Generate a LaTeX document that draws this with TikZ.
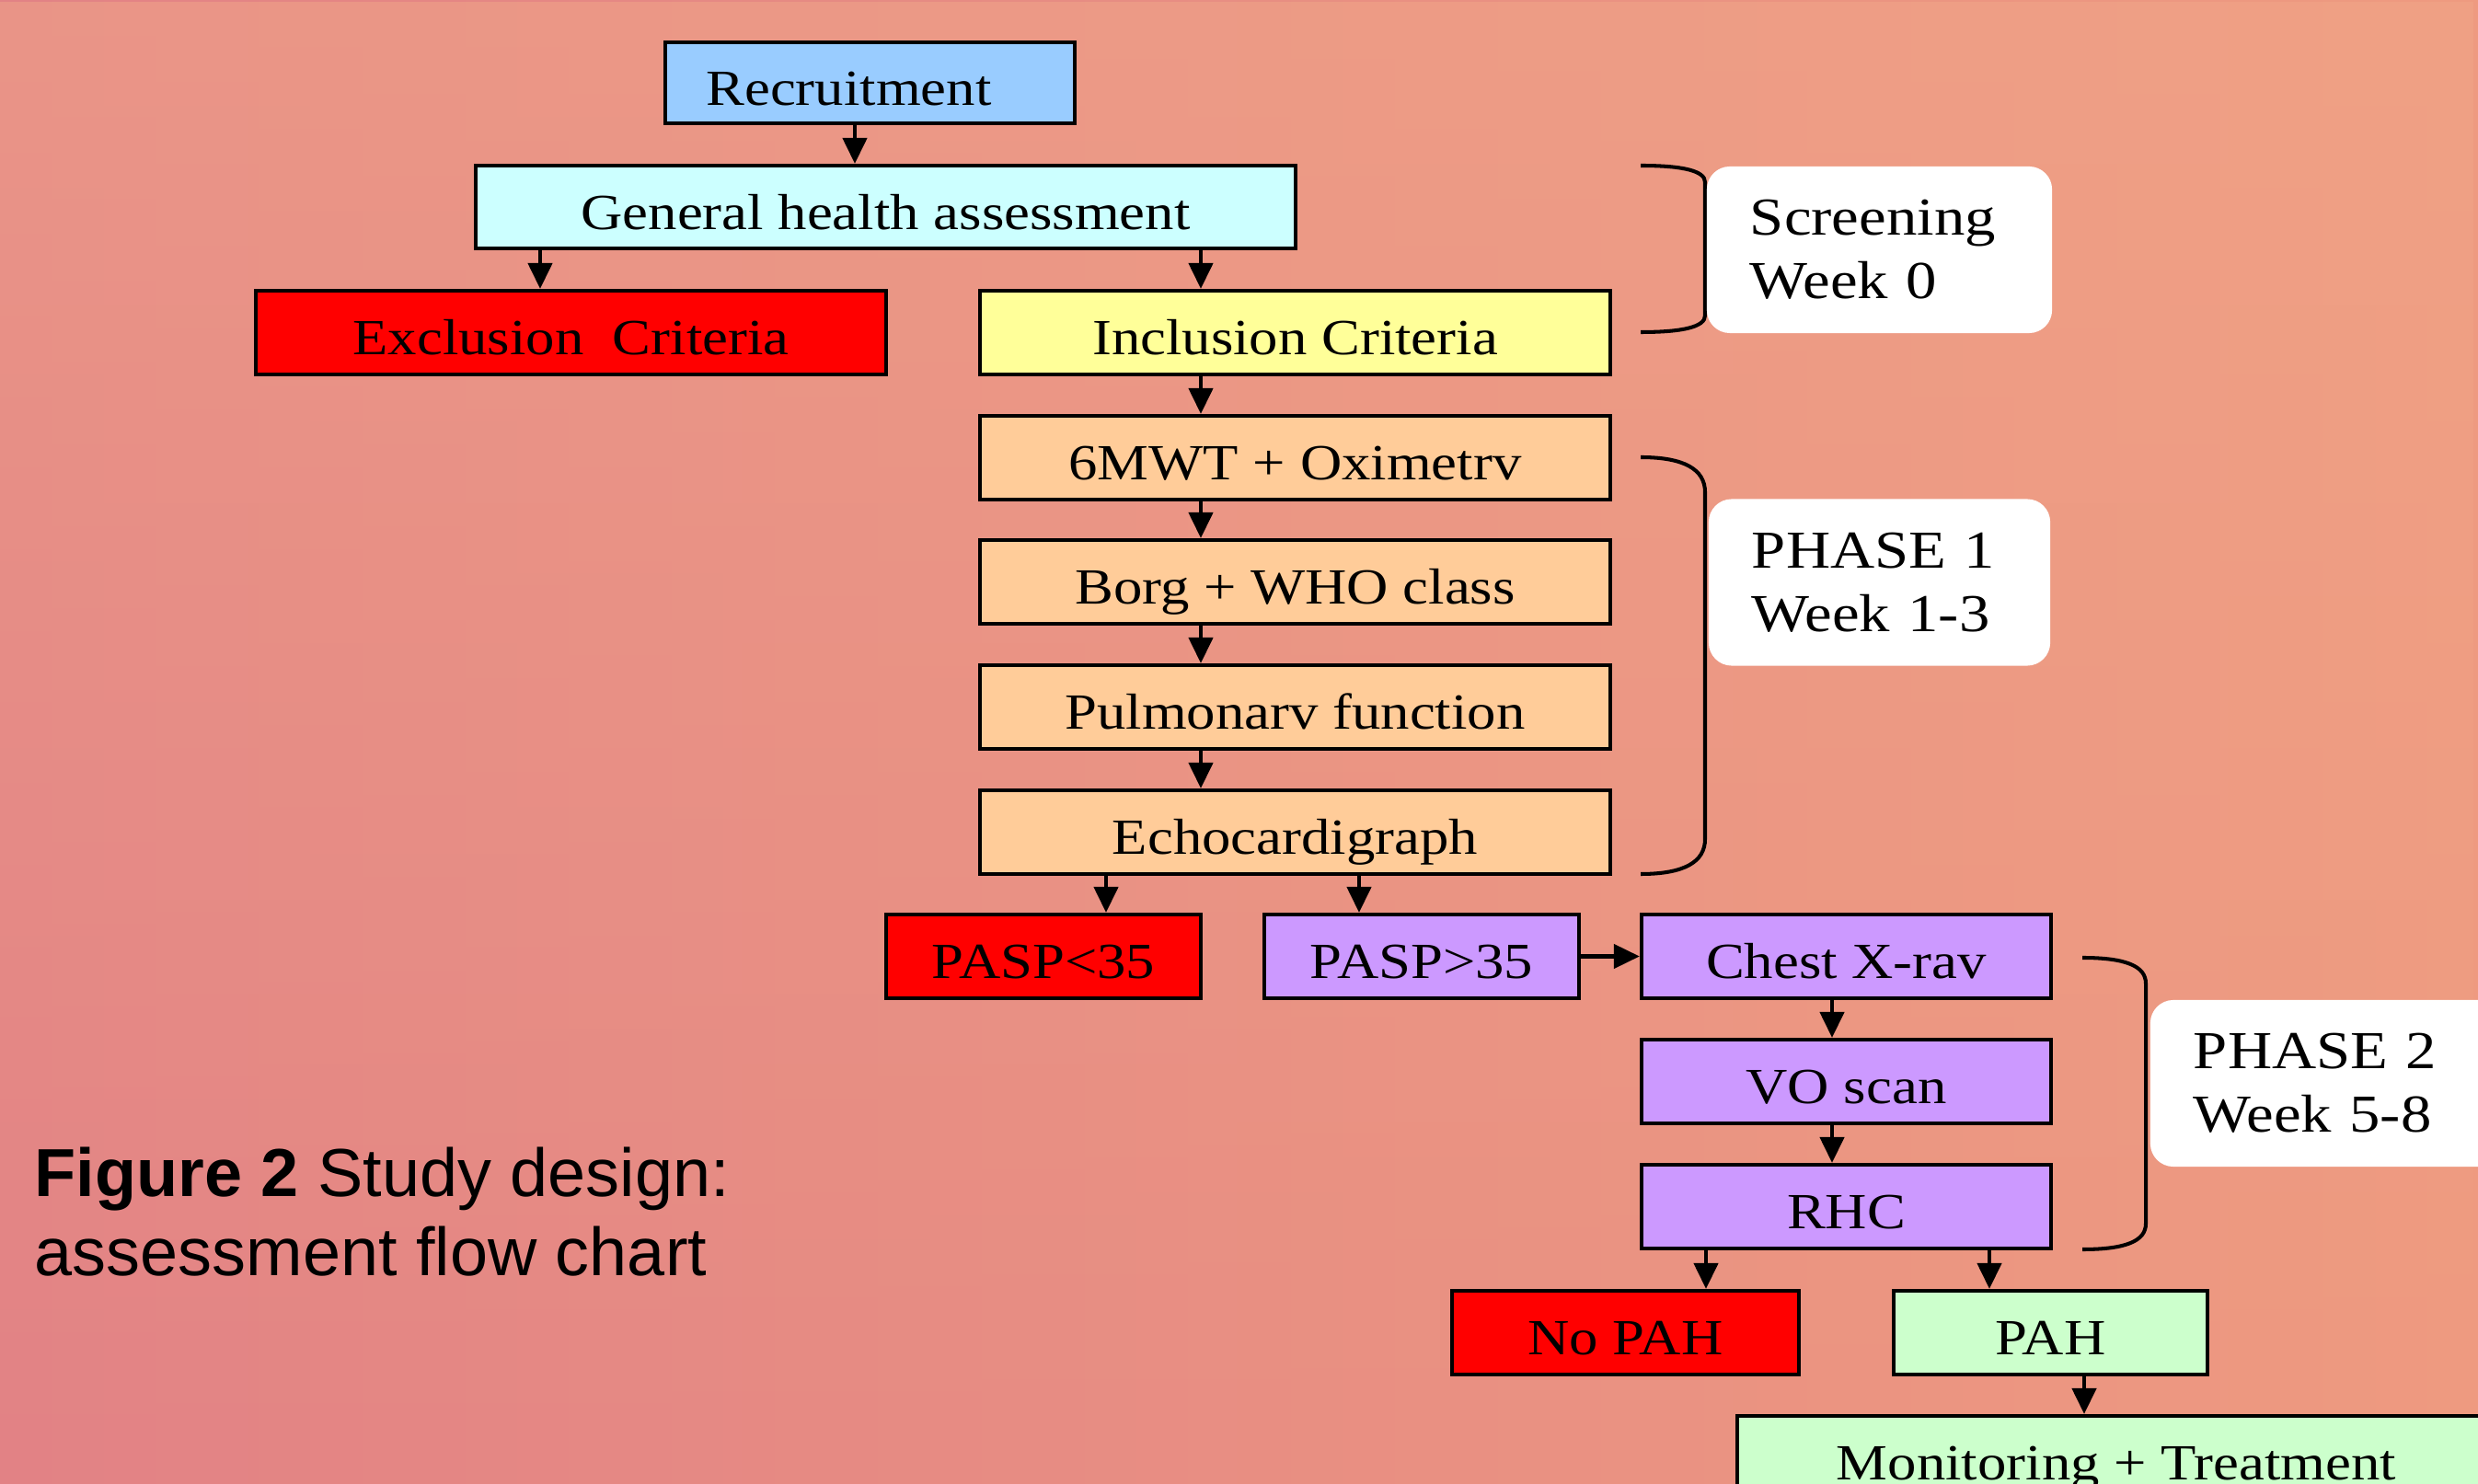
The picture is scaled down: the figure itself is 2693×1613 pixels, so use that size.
\documentclass[tikz,border=0pt]{standalone}
\usepackage{fontspec}
\setmainfont{Liberation Serif}
\newfontfamily\boxfont[FakeStretch=1.14]{Liberation Serif}
\newfontfamily\labfont[FakeStretch=1.15]{Liberation Serif}
\newfontfamily\capfont{Liberation Sans}
\usetikzlibrary{arrows.meta,fadings}
\definecolor{bgL}{RGB}{226,130,133}
\definecolor{bgR}{RGB}{238,154,128}
\definecolor{bgT}{RGB}{242,168,138}
\definecolor{cRec}{HTML}{99CCFF}
\definecolor{cGen}{HTML}{CCFFFF}
\definecolor{cRed}{HTML}{FF0000}
\definecolor{cInc}{HTML}{FFFF99}
\definecolor{cOra}{HTML}{FFCC99}
\definecolor{cPur}{HTML}{CC99FF}
\definecolor{cGrn}{HTML}{CCFFCC}
\begin{document}
\begin{tikzpicture}[x=0.01cm,y=-0.01cm,
  fbox/.style={draw=black, line width=1.15pt, inner sep=0pt, minimum height=0.91cm,
    text height=0.48cm, text depth=0pt, font=\boxfont\fontsize{15.65pt}{18pt}\selectfont},
  arr/.style={line width=1.25pt, -{Triangle[length=0.28cm,width=0.26cm]}},
  bracket/.style={line width=1.15pt},
  lab/.style={fill=white, rounded corners=0.25cm, inner xsep=0.47cm, inner ysep=0pt,
    minimum height=1.81cm, align=left, font=\labfont\fontsize{16.5pt}{19.63pt}\selectfont}]
\clip (0,0) rectangle (2693,1613);
\shade[left color=bgL, right color=bgR] (0,0) rectangle (2693,1613);
\fill[bgT, path fading=south, fill opacity=0.5] (0,0) rectangle (2693,1613);

% flow boxes
\node[fbox, fill=cRec, minimum width=4.45cm, minimum height=0.88cm] (rec) at (945.5,90) {Recruitment\hspace*{0.46cm}};
\node[fbox, fill=cGen, minimum width=8.91cm, minimum height=0.90cm] (gen) at (962.5,225) {General health assessment};
\node[fbox, fill=cRed, minimum width=6.85cm] (exc) at (620.5,361.5) {Exclusion\ \ Criteria};
\node[fbox, fill=cInc, minimum width=6.85cm] (inc) at (1407.5,361.5) {Inclusion Criteria};
\node[fbox, fill=cOra, minimum width=6.85cm] (mwt) at (1407.5,497.5) {6MWT + Oximetrv};
\node[fbox, fill=cOra, minimum width=6.85cm] (borg) at (1407.5,632.5) {Borg + WHO class};
\node[fbox, fill=cOra, minimum width=6.85cm] (pulm) at (1407.5,768.5) {Pulmonarv function};
\node[fbox, fill=cOra, minimum width=6.85cm] (echo) at (1407.5,904.5) {Echocardigraph};
\node[fbox, fill=cRed, minimum width=3.42cm] (pl) at (1134,1039.5) {PASP<35};
\node[fbox, fill=cPur, minimum width=3.42cm] (pg) at (1545,1039.5) {PASP>35};
\node[fbox, fill=cPur, minimum width=4.45cm] (cxr) at (2006.5,1039.5) {Chest X-rav};
\node[fbox, fill=cPur, minimum width=4.45cm] (vo) at (2006.5,1175.5) {VO scan};
\node[fbox, fill=cPur, minimum width=4.45cm] (rhc) at (2006.5,1311.5) {RHC};
\node[fbox, fill=cRed, minimum width=3.77cm] (nopah) at (1766.5,1448.5) {No PAH};
\node[fbox, fill=cGrn, minimum width=3.41cm] (pah) at (2228.5,1448.5) {PAH};
\node[fbox, fill=cGrn, minimum width=8.24cm] (mon) at (2300,1584.5) {Monitoring + Treatment};

% connectors
\draw[arr] ([shift={(-16.5,0)}]rec.south) -- ([shift={(-33.5,0)}]gen.north);
\draw[arr] ([shift={(-375.5,0)}]gen.south) -- ([shift={(-33.5,0)}]exc.north);
\draw[arr] ([shift={(342.5,0)}]gen.south) -- ([shift={(-102.5,0)}]inc.north);
\draw[arr] ([shift={(-102.5,0)}]inc.south) -- ([shift={(-102.5,0)}]mwt.north);
\draw[arr] ([shift={(-102.5,0)}]mwt.south) -- ([shift={(-102.5,0)}]borg.north);
\draw[arr] ([shift={(-102.5,0)}]borg.south) -- ([shift={(-102.5,0)}]pulm.north);
\draw[arr] ([shift={(-102.5,0)}]pulm.south) -- ([shift={(-102.5,0)}]echo.north);
\draw[arr] ([shift={(-205.5,0)}]echo.south) -- ([shift={(68,0)}]pl.north);
\draw[arr] ([shift={(69.5,0)}]echo.south) -- ([shift={(-68,0)}]pg.north);
\draw[arr] (pg.east) -- (cxr.west);
\draw[arr] ([shift={(-15.5,0)}]cxr.south) -- ([shift={(-15.5,0)}]vo.north);
\draw[arr] ([shift={(-15.5,0)}]vo.south) -- ([shift={(-15.5,0)}]rhc.north);
\draw[arr] ([shift={(-152.5,0)}]rhc.south) -- ([shift={(87.5,0)}]nopah.north);
\draw[arr] ([shift={(155.5,0)}]rhc.south) -- ([shift={(-66.5,0)}]pah.north);
\draw[arr] ([shift={(36.5,0)}]pah.south) -- ([shift={(-35,0)}]mon.north);

% brackets
\draw[bracket] (1783,180) .. controls (1830,180) and (1853,186) .. (1853,198) -- (1853,343) .. controls (1853,355) and (1830,361) .. (1783,361);
\draw[bracket] (1783,497) .. controls (1830,497) and (1853,510) .. (1853,535) -- (1853,912) .. controls (1853,937) and (1830,950) .. (1783,950);
\draw[bracket] (2263,1041) .. controls (2310,1041) and (2332,1050) .. (2332,1069) -- (2332,1330) .. controls (2332,1349) and (2310,1358) .. (2263,1358);

% phase labels
\node[lab, text width=2.81cm] (scr) at (2042.5,271.5) {Screening\\Week 0};
\node[lab, text width=2.77cm] (ph1) at (2042.5,633) {PHASE 1\\Week 1-3};
\node[lab, text width=2.99cm] (ph2) at (2533.5,1177.5) {PHASE 2\\Week 5-8};

% caption
\node[anchor=north west, inner sep=0pt, align=left, font=\capfont\fontsize{21pt}{24.47pt}\selectfont] (cap) at (37,1246) {\textbf{Figure 2} Study design:\\assessment flow chart};
\end{tikzpicture}
\end{document}
